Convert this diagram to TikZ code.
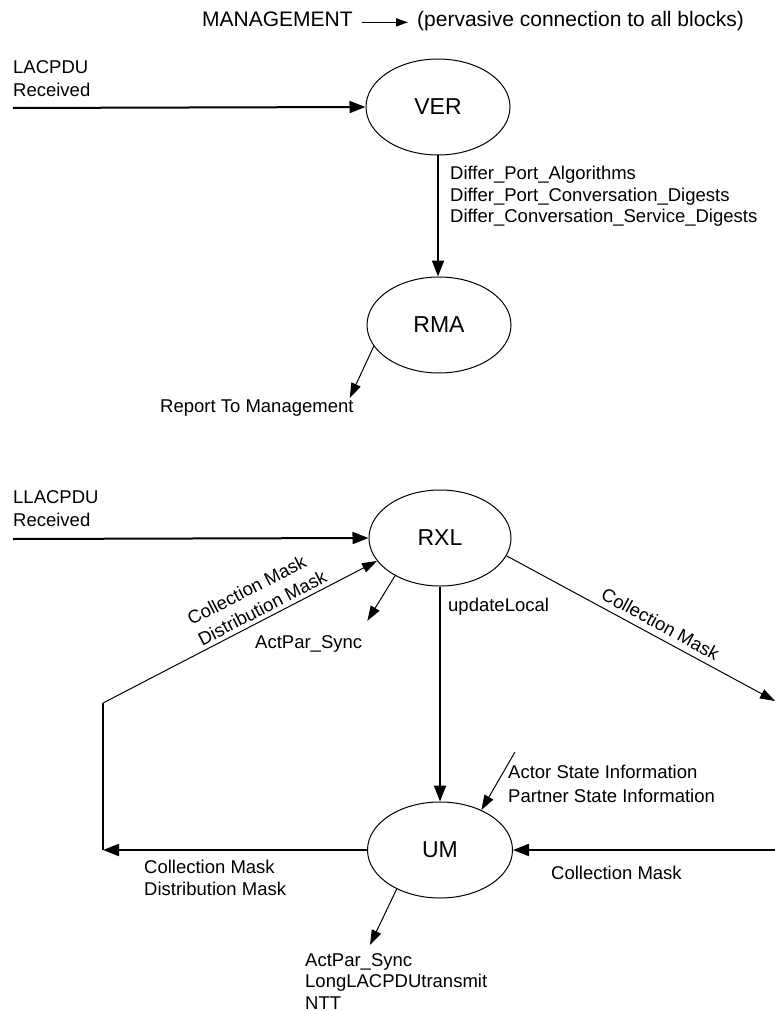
\documentclass[tikz,border=0pt]{standalone}
\usepackage{fontspec}
\setmainfont{Liberation Sans}
\usetikzlibrary{shapes.geometric,arrows.meta}
\begin{document}
\begin{tikzpicture}[x=1pt,y=-1pt,
  state/.style={draw,ellipse,line width=1pt,minimum width=144pt,minimum height=96pt,inner sep=0pt,font=\fontsize{23}{27}\selectfont},
  lbl/.style={inner sep=0pt,align=left,font=\fontsize{18.5}{21.5}\selectfont},
  heavy/.style={line width=2pt,-{Triangle[length=16pt,width=12pt]}},
  light/.style={line width=1pt,-{Triangle[length=15pt,width=10pt]}}]
\useasboundingbox (0,0) rectangle (775,1011);

% Management note
\node[lbl,font=\fontsize{21}{25}\selectfont,anchor=base west] (mgmt) at (202,27) {MANAGEMENT};
\node[lbl,font=\fontsize{21}{25}\selectfont,anchor=base west] (pervasive) at (417,27) {(pervasive connection to all blocks)};
\draw[line width=1.5pt,-{Triangle[length=12pt,width=8pt]}] ([xshift=9pt,yshift=2pt]mgmt.mid east) -- ([xshift=-9pt,yshift=2pt]mgmt.mid east -| pervasive.west);

% States
\node[state] (ver) at (438,107) {VER};
\node[state] (rma) at (439,325) {RMA};
\node[state,minimum width=142pt] (rxl) at (440,538) {RXL};
\node[state,minimum width=145pt] (um) at (440,850) {UM};

% Free ends
\coordinate (lacin) at (13,108);
\coordinate (llin) at (13,539);
\coordinate (lbot) at (103,850);
\coordinate (ltop) at (103,703);
\coordinate (rtop) at (775,701);
\coordinate (rbot) at (775,850);
\coordinate (stin) at (515,752);

% Upper part
\node[lbl,anchor=north west,font=\fontsize{18.5}{23}\selectfont] (lacpdu) at (13,60) {LACPDU\\Received};
\draw[heavy] (lacin) -- (ver.west);
\draw[heavy] (ver.south) -- (ver.south |- rma.north);
\node[lbl,anchor=north west] (differ) at (450,166) {Differ\_Port\_Algorithms\\Differ\_Port\_Conversation\_Digests\\Differ\_Conversation\_Service\_Digests};
\node[lbl,anchor=base west] (report) at (160,412) {Report To Management};
\draw[light] (rma.198) -- ([xshift=-4pt,yshift=1pt]report.north east);

% Lower part
\node[lbl,anchor=north west,font=\fontsize{18.5}{23}\selectfont] (llacpdu) at (13,490) {LLACPDU\\Received};
\draw[heavy] (llin) -- (rxl.west);

\node[lbl,anchor=base west] (actsync) at (255,648) {ActPar\_Sync};
\draw[light] (rxl.220) -- ([xshift=5pt,yshift=14pt]actsync.north east);

\draw[heavy] (rxl.south) -- (um.north);
\node[lbl,anchor=base west] (update) at (448,611) {updateLocal};

\draw[light] (rxl.-15) -- (rtop) node[lbl,pos=0.55,sloped,above=6pt] (maskright) {Collection Mask};
\draw[heavy] (rbot) -- (um.east);
\node[lbl,anchor=base west] (maskin) at (551,879) {Collection Mask};

\node[lbl,anchor=north west,font=\fontsize{18.5}{24}\selectfont] (stateinfo) at (508,765) {Actor State Information\\Partner State Information};
\draw[light] (stin) -- (um.44);

\draw[heavy] (um.west) -- (lbot);
\node[lbl,anchor=north west] (maskout) at (144,860) {Collection Mask\\Distribution Mask};
\draw[line width=2pt] (lbot) -- (ltop);
\draw[light] (ltop) -- (rxl.200) node[lbl,pos=0.6,sloped,above=4pt,font=\fontsize{18.5}{23}\selectfont] (maskup) {Collection Mask\\Distribution Mask};

\node[lbl,anchor=north west] (umout) at (305,953) {ActPar\_Sync\\LongLACPDUtransmit\\NTT};
\draw[light] (um.222) -- ([xshift=65pt,yshift=8pt]umout.north west);
\end{tikzpicture}
\end{document}
